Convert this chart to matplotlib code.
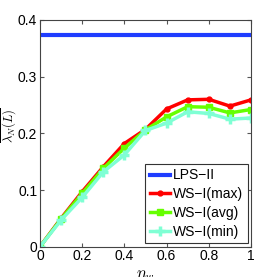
import matplotlib
matplotlib.use('Agg')
import matplotlib.pyplot as plt
import numpy as np

plt.rcParams['font.family'] = ['Liberation Sans', 'DejaVu Sans']
plt.rcParams['mathtext.fontset'] = 'cm'

eta = [0, 0.1, 0.2, 0.3, 0.4, 0.5, 0.6, 0.7, 0.8, 0.9, 1.0]
lps_ii = 0.374
ws_max = [0, 0.050, 0.097, 0.141, 0.182, 0.207, 0.243, 0.259, 0.260, 0.248, 0.259]
ws_avg = [0, 0.049, 0.094, 0.138, 0.174, 0.206, 0.229, 0.247, 0.246, 0.236, 0.242]
ws_min = [0, 0.047, 0.087, 0.132, 0.162, 0.205, 0.218, 0.238, 0.235, 0.225, 0.227]

fig = plt.figure(figsize=(2.77, 2.77), dpi=100)
ax = fig.add_axes([0.1444, 0.1094, 0.7617, 0.8186])

ax.plot([0, 1], [lps_ii, lps_ii], color='#1f3dff', lw=3, label='LPS\u2212II')
ax.plot(eta, ws_max, color='#ff0000', lw=2.5, marker='.', ms=7, label='WS\u2212I(max)')
ax.plot(eta, ws_avg, color='#66ff00', lw=2.5, marker='s', ms=4, label='WS\u2212I(avg)')
ax.plot(eta, ws_min, color='#7fffd4', lw=2.5, marker='+', ms=7, mew=2.5, label='WS\u2212I(min)')

ax.set_xlim(0, 1)
ax.set_ylim(0, 0.4)
ax.set_xticks([0, 0.2, 0.4, 0.6, 0.8, 1])
ax.set_xticklabels(['0', '0.2', '0.4', '0.6', '0.8', '1'])
ax.set_yticks([0, 0.1, 0.2, 0.3, 0.4])
ax.set_yticklabels(['0', '0.1', '0.2', '0.3', '0.4'])
ax.tick_params(direction='in', top=True, right=True, labelsize=10,
               length=3, color='#555555', pad=2)
for s in ax.spines.values():
    s.set_color('#444444')
    s.set_linewidth(0.8)

ax.set_xlabel(r'$\eta_w$', fontsize=12)
ax.xaxis.set_label_coords(0.5, -0.095)
ax.set_ylabel(r'$\frac{\lambda_2(L)}{\lambda_N(L)}$', fontsize=13)
ax.yaxis.set_label_coords(-0.094, 0.537)

leg = ax.legend(loc='lower right', fontsize=10, handlelength=1.5,
                handletextpad=0.2, borderpad=0.3, labelspacing=0.35, fancybox=False,
                framealpha=1, borderaxespad=0.25)
leg.get_frame().set_edgecolor('#333333')
leg.get_frame().set_linewidth(0.8)

fig.savefig('out.png', dpi=100)
